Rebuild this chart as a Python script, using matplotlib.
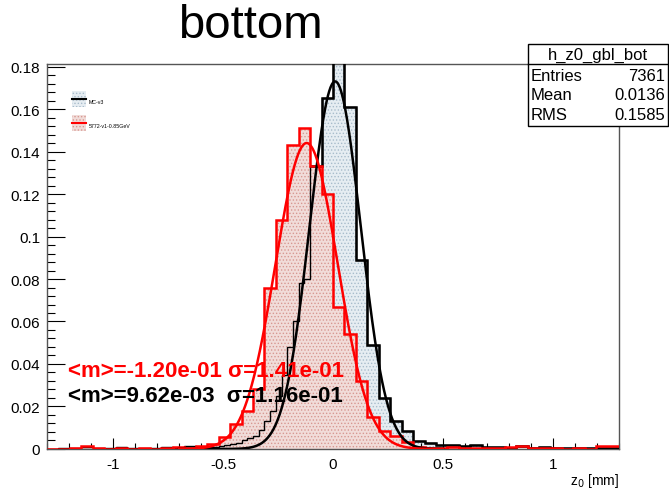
import numpy as np
import matplotlib.pyplot as plt
from matplotlib.patches import Rectangle
from matplotlib.lines import Line2D
from matplotlib.ticker import MultipleLocator

plt.rcParams['font.family'] = ['Liberation Sans', 'DejaVu Sans']
plt.rcParams['hatch.linewidth'] = 0.6

# 50 bins from -1.3 to 1.3 (bin width 0.052)
x_lo, x_hi, n_bins = -1.3, 1.3, 50
edges = np.linspace(x_lo, x_hi, n_bins + 1)

# data histogram "5772-v1-0.85GeV" (red), normalised bin contents
data_vals = [0, 0, 0.0005, 0.0012, 0.0003, 0, 0.0003, 0, 0.0005, 0,
             0.0003, 0.0008, 0.0005, 0.0012, 0.0023, 0.0055, 0.0117, 0.018, 0.028, 0.076,
             0.108, 0.143, 0.151, 0.133, 0.120, 0.067, 0.054, 0.032, 0.0149, 0.0086,
             0.0063, 0.0031, 0.0008, 0.0005, 0.0003, 0.0008, 0.0005, 0.0003, 0.0005, 0.0003,
             0.0008, 0.0012, 0.0003, 0.0005, 0.0003, 0, 0.0005, 0, 0.0015, 0.0015]

# MC histogram "MC-v3" (black): left tail (coarse), rising edge (fine bins), core (coarse)
mc_tail_vals = [0, 0.0005, 0.0003, 0.0008, 0.0005, 0.0003, 0.0008, 0.0005, 0.0003, 0.0005,
                0.0008, 0.0005, 0.0012]
mc_fine_vals = [0.001, 0.001, 0.001, 0.001, 0.0015, 0.002, 0.0025, 0.003, 0.004, 0.005,
                0.006, 0.009, 0.013, 0.018, 0.025, 0.035, 0.048, 0.060, 0.078, 0.080]
mc_core_vals = [0.133, 0.165, 0.186, 0.161, 0.089, 0.049, 0.024, 0.0133, 0.0086, 0.0039,
                0.003, 0.002, 0.002, 0.0015, 0.002, 0.001, 0.0008, 0.0005, 0.0012, 0.0005,
                0.0008, 0.0003, 0.0005, 0.0003, 0.0005, 0.0003, 0.0003]

n_tail = len(mc_tail_vals)
n_core = len(mc_core_vals)
tail_edges = edges[:n_tail + 1]
core_edges = edges[n_bins - n_core:]
fine_edges = np.linspace(tail_edges[-1], core_edges[0], len(mc_fine_vals) + 1)
mc_all_vals = mc_tail_vals + mc_fine_vals + mc_core_vals
mc_all_edges = np.concatenate([tail_edges[:-1], fine_edges[:-1], core_edges])

data_fit = dict(mean=-1.20e-01, sigma=1.41e-01, peak=0.144)
mc_fit = dict(mean=9.62e-03, sigma=1.16e-01, peak=0.173)

stats_title = "h_z0_gbl_bot"
stats_rows = [("Entries", "7361"), ("Mean", "0.0136"), ("RMS", "0.1585")]

fig = plt.figure(figsize=(6.69, 4.89), dpi=100)
ax = fig.add_axes([0.0703, 0.0798, 0.8550, 0.7873])

mc_face, mc_dots = '#e6edf2', '#a8bccb'
da_face, da_dots = '#f1dcd9', '#d79892'

ax.stairs(mc_all_vals, mc_all_edges, fill=True, facecolor=mc_face, edgecolor=mc_dots,
          hatch='.....', lw=0, zorder=1)
ax.stairs(data_vals, edges, fill=True, facecolor=da_face, edgecolor=da_dots,
          hatch='.....', lw=0, zorder=2)

ax.stairs(mc_all_vals, mc_all_edges, baseline=None, color='black', lw=1.0, zorder=3)
ax.stairs(mc_core_vals, core_edges, baseline=None, color='black', lw=1.8, zorder=3)
ax.stairs(data_vals, edges, baseline=None, color='red', lw=1.8, zorder=4)

xf = np.linspace(-0.7, 0.5, 400)
for fit, col in [(mc_fit, 'black'), (data_fit, 'red')]:
    yf = fit['peak'] * np.exp(-0.5 * ((xf - fit['mean']) / fit['sigma']) ** 2)
    ax.plot(xf, yf, color=col, lw=1.8, zorder=5)

ax.set_xlim(x_lo, x_hi)
ax.set_ylim(0, 0.1812)
ax.xaxis.set_major_locator(MultipleLocator(0.5))
ax.xaxis.set_minor_locator(MultipleLocator(0.1))
ax.yaxis.set_major_locator(MultipleLocator(0.02))
ax.yaxis.set_minor_locator(MultipleLocator(0.004))
ax.tick_params(which='both', direction='in', labelsize=11, colors='black', width=0.8)
ax.tick_params(axis='y', which='major', length=13, pad=5)
ax.tick_params(axis='y', which='minor', length=6)
ax.tick_params(axis='x', which='major', length=8, pad=6)
ax.tick_params(axis='x', which='minor', length=4)
ax.yaxis.set_major_formatter(plt.FuncFormatter(lambda v, p: f"{v:g}"))
ax.xaxis.set_major_formatter(plt.FuncFormatter(lambda v, p: f"{v:g}"))
for s in ax.spines.values():
    s.set_color('#555555')
    s.set_linewidth(1.0)
ax.set_xlabel("z$_0$ [mm]", fontsize=10, loc='right', labelpad=0)

# fit results
ax.text(0.037, 0.205, "<m>=-1.20e-01 σ=1.41e-01", transform=ax.transAxes,
        color='red', fontsize=16, fontweight='bold', va='center', zorder=6)
ax.text(0.037, 0.14, "<m>=9.62e-03  σ=1.16e-01", transform=ax.transAxes,
        color='black', fontsize=16, fontweight='bold', va='center', zorder=6)

# legend
W, H = 669.0, 489.0
for (py, face, dots, col, lab) in [(100, mc_face, mc_dots, 'black', 'MC-v3'),
                                   (124, da_face, da_dots, 'red', '5772-v1-0.85GeV')]:
    fig.patches.append(Rectangle((72 / W, 1 - (py + 8) / H), 14 / W, 16 / H,
                                 transform=fig.transFigure, facecolor=face,
                                 edgecolor=dots, hatch='.....', lw=0))
    fig.lines.append(Line2D([72 / W, 86 / W], [1 - py / H, 1 - py / H],
                            transform=fig.transFigure, color=col, lw=1.5))
    fig.text(89 / W, 1 - (py + 2) / H, lab, fontsize=3.8, va='center', color='black')

# title
fig.text(250 / W, 1 - 26 / H, "bottom", fontsize=34, ha='center', va='center')

# stats box
bx0, bx1, by0, by1 = 528, 668, 45, 127
fig.patches.append(Rectangle((bx0 / W, 1 - by1 / H), (bx1 - bx0) / W, (by1 - by0) / H,
                             transform=fig.transFigure, facecolor='white',
                             edgecolor='black', lw=1.0, zorder=10))
fig.lines.append(Line2D([bx0 / W, bx1 / W], [1 - 65 / H, 1 - 65 / H],
                        transform=fig.transFigure, color='black', lw=1.0, zorder=11))
fig.text((bx0 + bx1) / 2 / W, 1 - 55 / H, stats_title, fontsize=12, ha='center', va='center', zorder=12)
for i, (k, v) in enumerate(stats_rows):
    yy = 1 - (76.5 + 19.5 * i) / H
    fig.text((bx0 + 3) / W, yy, k, fontsize=12, ha='left', va='center', zorder=12)
    fig.text((bx1 - 3) / W, yy, v, fontsize=12, ha='right', va='center', zorder=12)

fig.savefig("out.png", dpi=100)
